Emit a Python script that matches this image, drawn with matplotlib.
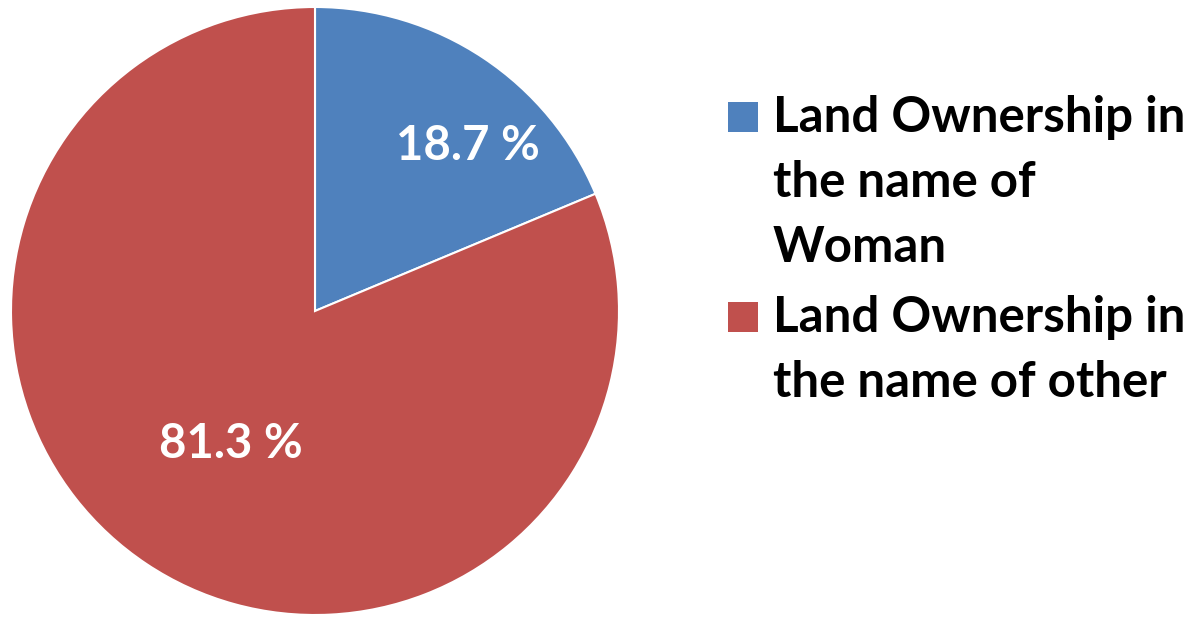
import matplotlib.pyplot as plt
from matplotlib.patches import Rectangle

# data
labels = ["Land Ownership in\nthe name of\nWoman", "Land Ownership in\nthe name of other"]
shares = [18.7, 81.3]
pct_text = ["18.7 %", "81.3 %"]
colors = ["#4F81BD", "#C0504D"]

W, H = 1191, 617
fig = plt.figure(figsize=(W / 100, H / 100), dpi=100)
plt.rcParams['font.family'] = ['Lato', 'DejaVu Sans']

ax = fig.add_axes([11 / W, (H - 615) / H, 608 / W, 608 / H])
wedges, _ = ax.pie(shares, colors=colors, startangle=90, counterclock=False,
                   wedgeprops=dict(edgecolor="white", linewidth=1.5))
ax.set_aspect("equal")
ax.set_xlim(-1, 1)
ax.set_ylim(-1, 1)

# percentage labels (baseline positions, in units of the radius)
label_pos = [(0.502, 0.497), (-0.276, -0.484)]
for txt, (lx, ly) in zip(pct_text, label_pos):
    ax.text(lx, ly, txt, color="white", fontsize=34,
            fontweight="bold", ha="center", va="baseline")

# legend drawn by hand so the swatch sits on the first line
baselines = [132, 332]
line_gap = 65
for lab, col, yb in zip(labels, colors, baselines):
    fig.patches.append(Rectangle((728 / W, (H - yb) / H), 30 / W, 30 / H,
                                 facecolor=col, transform=fig.transFigure))
    for i, line in enumerate(lab.split("\n")):
        fig.text(773 / W, (H - yb - i * line_gap) / H, line, fontsize=35.5,
                 fontweight="bold", ha="left", va="baseline")

fig.savefig("out.png", dpi=100)
